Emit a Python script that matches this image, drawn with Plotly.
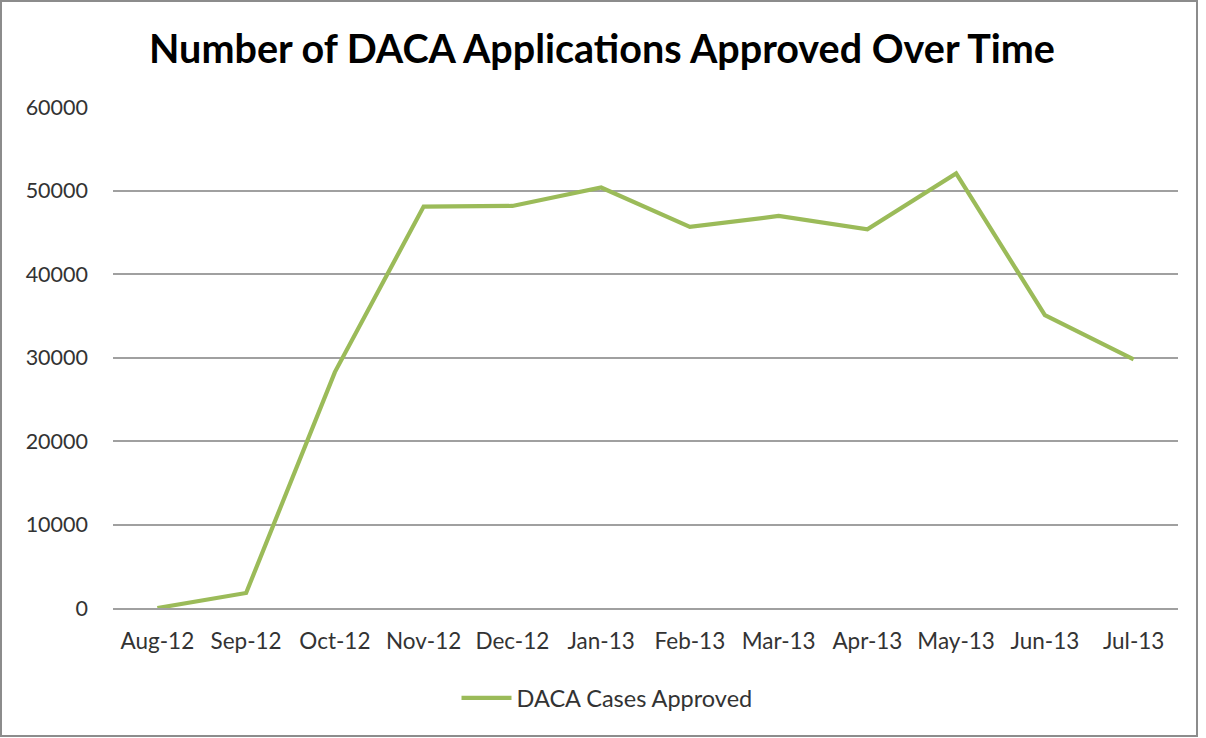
import plotly.graph_objects as go

months = ["Aug-12", "Sep-12", "Oct-12", "Nov-12", "Dec-12", "Jan-13",
          "Feb-13", "Mar-13", "Apr-13", "May-13", "Jun-13", "Jul-13"]
approved = [0, 1800, 28250, 48080, 48150, 50360, 45640, 46950, 45360, 52040, 35080, 29770]
series_name = "DACA Cases Approved"
title_text = "Number of DACA Applications Approved Over Time"
y_ticks = [0, 10000, 20000, 30000, 40000, 50000, 60000]

W, H = 1206, 738
ml, mr, mt, mb = 113, 28, 107, 130
pw, ph = W - ml - mr, H - mt - mb

def px_x(x):
    return (x - ml) / pw

def px_y(y):
    return (H - mb - y) / ph

fig = go.Figure()
fig.add_trace(go.Scatter(
    x=months, y=approved, mode="lines", name=series_name,
    line=dict(color="#9BBB59", width=4.2),
))

FONT = "Lato"
TXT = "#333333"
fig.update_layout(
    width=W, height=H,
    margin=dict(l=ml, r=mr, t=mt, b=mb),
    paper_bgcolor="white", plot_bgcolor="white",
    font=dict(family=FONT, size=22, color=TXT),
    title=dict(text="<b>" + title_text + "</b>", x=(602 / W), xref="container", xanchor="center",
               y=1 - 49 / H, yanchor="middle",
               font=dict(family=FONT, size=39.5, color="black")),
    showlegend=True,
    legend=dict(orientation="h", x=px_x(607), xanchor="center", y=px_y(698), yanchor="middle",
                font=dict(family=FONT, size=23.5, color=TXT), itemwidth=50),
    xaxis=dict(type="category", range=[-0.5, len(months) - 0.5], showgrid=False,
               showline=True, linecolor="#a0a0a0", linewidth=1.5, ticks="",
               ticklabelstandoff=12,
               tickfont=dict(family=FONT, size=22.5, color=TXT)),
    yaxis=dict(range=[0, 60000], tickvals=y_ticks, ticktext=[str(v) for v in y_ticks],
               showgrid=True, gridcolor="#a0a0a0", gridwidth=1.5, zeroline=False,
               showline=False, ticks="", ticklabelstandoff=24,
               tickfont=dict(family=FONT, size=21.5, color=TXT)),
    shapes=[dict(type="rect", xref="paper", yref="paper",
                 x0=px_x(1), x1=px_x(1197), y0=px_y(736), y1=px_y(1),
                 line=dict(color="#8c8c8c", width=2), fillcolor="rgba(0,0,0,0)", layer="below")],
)

fig.write_html("out.html", config={"displayModeBar": False},
               post_script="document.body.style.margin='0';document.body.style.overflow='hidden';")
